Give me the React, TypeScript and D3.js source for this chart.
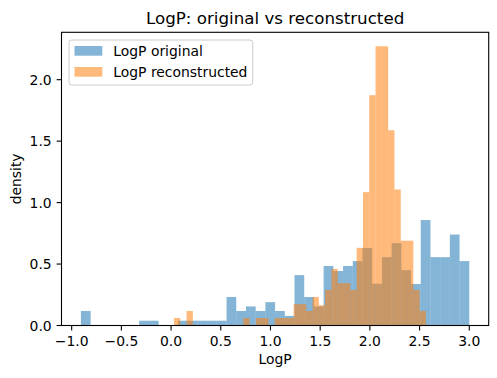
import React from "react";
import * as d3 from "d3";

// Histogram densities per bin (40 bins each)
const seriesNames = ["LogP original", "LogP reconstructed"];
const blueDensity = [
  0.118, 0, 0, 0, 0, 0, 0.039, 0.039, 0, 0,
  0.039, 0.039, 0.039, 0.039, 0.039, 0.232, 0.118, 0.155, 0.118, 0.19,
  0.118, 0.078, 0.41, 0.232, 0.155, 0.484, 0.443, 0.484, 0.524, 0.63,
  0.34, 0.556, 0.67, 0.45, 0.337, 0.858, 0.556, 0.556, 0.74, 0.524,
];
const orangeDensity = [
  0.061, 0, 0.118, 0, 0, 0, 0, 0, 0, 0,
  0, 0.061, 0, 0.061, 0.061, 0, 0.061, 0.061, 0.061, 0.174,
  0.174, 0.118, 0.232, 0.165, 0.289, 0.46, 0.345, 0.345, 0.289, 0.632,
  1.085, 1.874, 2.272, 2.272, 1.589, 1.107, 0.69, 0.69, 0.289, 0.118,
];
const blueRange = [-0.907, 3.0];
const orangeRange = [0.029, 2.564];
const xTicks = [-1.0, -0.5, 0.0, 0.5, 1.0, 1.5, 2.0, 2.5, 3.0];
const yTicks = [0.0, 0.5, 1.0, 1.5, 2.0];
const colors = ["#1f77b4", "#ff7f0e"];

const W = 497;
const H = 378;
const L = 61.5;
const R = 488.7;
const T = 32.3;
const B = 325.5;
const FONT = "DejaVu Sans, sans-serif";

function edges(range: number[], n: number) {
  return d3.range(n + 1).map((i) => range[0] + ((range[1] - range[0]) * i) / n);
}

export default function App() {
  const lo = Math.min(blueRange[0], orangeRange[0]);
  const hi = Math.max(blueRange[1], orangeRange[1]);
  const pad = (hi - lo) * 0.05;
  const x = d3.scaleLinear().domain([lo - pad, hi + pad]).range([L, R]);
  const yMax = (d3.max([...blueDensity, ...orangeDensity]) as number) * 1.05;
  const y = d3.scaleLinear().domain([0, yMax]).range([B, T]);

  const series = [
    { vals: blueDensity, e: edges(blueRange, blueDensity.length), color: colors[0] },
    { vals: orangeDensity, e: edges(orangeRange, orangeDensity.length), color: colors[1] },
  ];

  return (
    <svg
      width={W}
      height={H}
      style={{ position: "absolute", left: 0, top: 0, background: "#fff" }}
      fontFamily={FONT}
    >
      <rect x={0} y={0} width={W} height={H} fill="#fff" />
      {series.map((s, si) => (
        <g key={si}>
          {s.vals.map((v, i) =>
            v > 0 ? (
              <rect
                key={i}
                x={x(s.e[i])}
                width={x(s.e[i + 1]) - x(s.e[i])}
                y={y(v)}
                height={y(0) - y(v)}
                fill={s.color}
                fillOpacity={0.55}
              />
            ) : null
          )}
        </g>
      ))}
      {/* spines */}
      <rect x={L} y={T} width={R - L} height={B - T} fill="none" stroke="#000" strokeWidth={1.1} />
      {/* x ticks */}
      {xTicks.map((t) => (
        <g key={"x" + t}>
          <line x1={x(t)} x2={x(t)} y1={B} y2={B + 4.9} stroke="#000" strokeWidth={1.1} />
          <text x={x(t)} y={B + 20} fontSize={13.9} textAnchor="middle" fill="#000">
            {d3.format(".1f")(t).replace("-", "\u2212")}
          </text>
        </g>
      ))}
      {/* y ticks */}
      {yTicks.map((t) => (
        <g key={"y" + t}>
          <line x1={L - 4.9} x2={L} y1={y(t)} y2={y(t)} stroke="#000" strokeWidth={1.1} />
          <text x={L - 9.8} y={y(t) + 5} fontSize={13.9} textAnchor="end" fill="#000">
            {d3.format(".1f")(t)}
          </text>
        </g>
      ))}
      <text x={(L + R) / 2} y={364} fontSize={13.9} textAnchor="middle" fill="#000">
        LogP
      </text>
      <text
        transform={`translate(20.7, ${(T + B) / 2}) rotate(-90)`}
        fontSize={13.9}
        textAnchor="middle"
        fill="#000"
      >
        density
      </text>
      <text x={(L + R) / 2} y={24.4} fontSize={16.7} textAnchor="middle" fill="#000">
        LogP: original vs reconstructed
      </text>
      {/* legend */}
      <rect x={69} y={40} width={183.7} height={45} rx={2.8} fill="#fff" fillOpacity={0.8} stroke="#cccccc" strokeWidth={1} />
      {seriesNames.map((name, i) => (
        <g key={name}>
          <rect x={74.5} y={46 + i * 21} width={27.8} height={9.7} fill={colors[i]} fillOpacity={0.55} />
          <text x={113.3} y={56.3 + i * 21} fontSize={13.9} fill="#000">
            {name}
          </text>
        </g>
      ))}
    </svg>
  );
}
